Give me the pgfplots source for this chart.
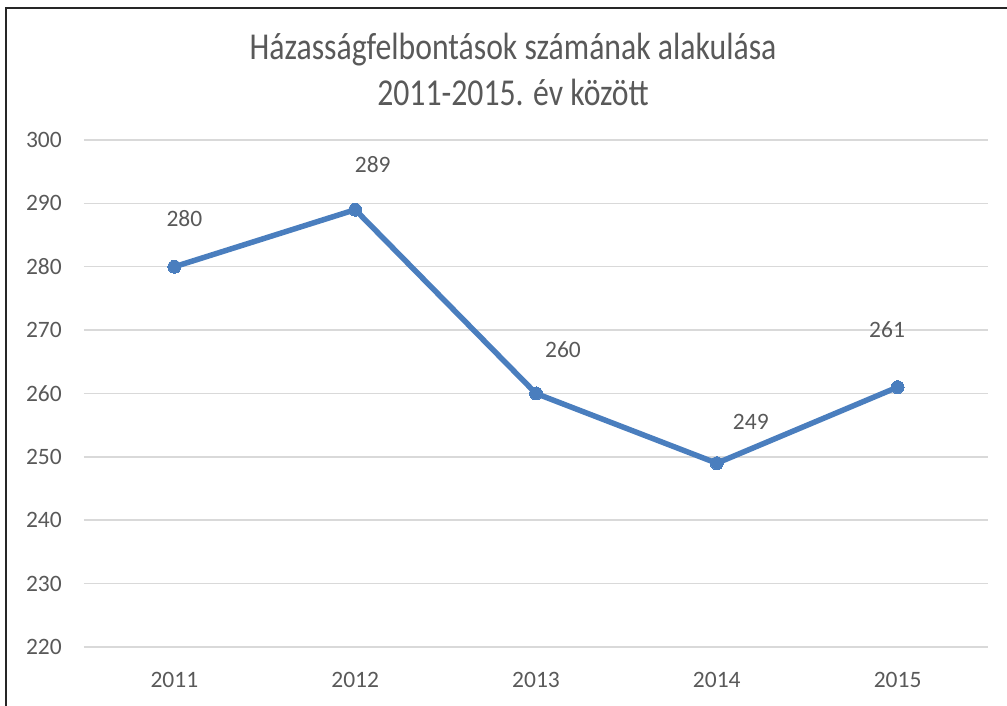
\documentclass[border=0pt]{standalone}
\usepackage{pgfplots}
\pgfplotsset{compat=1.18}
\usepackage{fontspec}
\setmainfont{Carlito}
\definecolor{lineblue}{RGB}{74,126,190}
\definecolor{txtgray}{RGB}{89,89,89}
\definecolor{gridgray}{RGB}{217,217,217}
\pgfplotstableread{
x y dx dy
0 280 10 48
1 289 17.5 45
2 260 27 44
3 249 34 41
4 261 -10.5 58
}\datatable
\begin{document}
\begin{tikzpicture}
\useasboundingbox (0,0) rectangle (1007pt,706pt);
\draw[black!85, line width=2pt] (6pt,-2pt) -- (6pt,698pt) -- (1010pt,698pt);
\node[txtgray, font=\fontsize{38}{45}\selectfont, inner sep=0pt] at (513pt,656pt) {\scalebox{0.835}[1]{Házasságfelbontások számának alakulása}};
\node[txtgray, font=\fontsize{38}{45}\selectfont, inner sep=0pt] at (513pt,614pt) {\scalebox{0.835}[1]{2011-2015. év között}};
\begin{axis}[
  at={(84pt,59pt)}, anchor=south west,
  scale only axis, width=904pt, height=507pt,
  xmin=-0.5, xmax=4.5, ymin=220, ymax=300,
  ytick={220,230,...,300},
  xtick={0,1,2,3,4},
  xticklabels={2011,2012,2013,2014,2015},
  ymajorgrids,
  grid style={gridgray, line width=1.5pt},
  axis line style={draw=none},
  major tick length=0pt,
  /pgf/number format/assume math mode=true,
  tick label style={txtgray, font=\fontsize{23.5}{28}\selectfont, inner sep=0pt},
  yticklabel style={anchor=east, xshift=-22pt},
  xticklabel style={anchor=north, yshift=-25pt},
  clip=false,
]
\addplot[lineblue, line width=5.5pt, mark=*, mark size=6.5pt,
  mark options={fill=lineblue, draw=lineblue, line width=0pt},
  point meta=\thisrow{y},
  visualization depends on={\thisrow{dx}\as\dx},
  visualization depends on={\thisrow{dy}\as\dy},
  nodes near coords,
  nodes near coords style={anchor=center, xshift=\dx pt, yshift=\dy pt, txtgray, font=\fontsize{23.5}{28}\selectfont, /pgf/number format/assume math mode=true},
] table[x=x, y=y] {\datatable};
\end{axis}
\end{tikzpicture}
\end{document}
